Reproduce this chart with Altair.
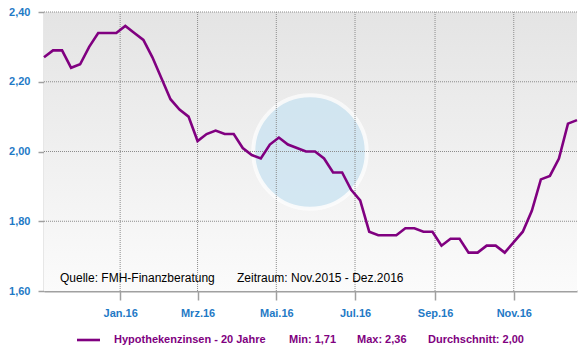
import altair as alt
import pandas as pd

# ---- data ----
first_date = "2015-11-03"
last_date = "2016-12-20"
rates = [2.27, 2.29, 2.29, 2.24, 2.25, 2.30, 2.34, 2.34, 2.34, 2.36,
         2.34, 2.32, 2.27, 2.21, 2.15, 2.12, 2.10, 2.03, 2.05, 2.06,
         2.05, 2.05, 2.01, 1.99, 1.98, 2.02, 2.04, 2.02, 2.01, 2.00,
         2.00, 1.98, 1.94, 1.94, 1.89, 1.86, 1.77, 1.76, 1.76, 1.76,
         1.78, 1.78, 1.77, 1.77, 1.73, 1.75, 1.75, 1.71, 1.71, 1.73,
         1.73, 1.71, 1.74, 1.77, 1.83, 1.92, 1.93, 1.98, 2.08, 2.09]
dates = pd.date_range(first_date, periods=len(rates), freq="7D").strftime("%Y-%m-%d").tolist()
month_names = ["Jan", "Feb", "Mrz", "Apr", "Mai", "Jun", "Jul", "Aug", "Sep", "Okt", "Nov", "Dez"]
tick_dates = ["2016-01-01", "2016-03-01", "2016-05-01", "2016-07-01", "2016-09-01", "2016-11-01"]
y_ticks = [1.60, 1.80, 2.00, 2.20, 2.40]
series_name = "Hypothekenzinsen - 20 Jahre"
source_text = "Quelle: FMH-Finanzberatung"
period_text = "Zeitraum: Nov.2015 - Dez.2016"

df = pd.DataFrame({"date": dates, "rate": rates})

def de(v):
    return f"{v:.2f}".replace(".", ",")

min_text = "Min: " + de(min(rates))
max_text = "Max: " + de(max(rates))
avg_text = "Durchschnitt: " + de(sum(rates) / len(rates))

W, H = 533, 279
PURPLE = "#800080"
BLUE = "#1f7ac6"
FONT = "Liberation Sans"
GRID = "#8c8c8c"

month_expr = "[" + ",".join(f"'{m}'" for m in month_names) + "]"
x_label_expr = month_expr + "[utcmonth(datum.value)] + '.' + utcFormat(datum.value, '%y')"

x_scale = alt.Scale(type="utc", domain=[first_date, last_date])
y_scale = alt.Scale(domain=[1.6, 2.4], nice=False, zero=False)
x_axis = alt.Axis(values=[pd.Timestamp(d).value // 10**6 for d in tick_dates],
                  labelExpr=x_label_expr, title=None, grid=False,
                  tickSize=9, labelPadding=7)
y_axis = alt.Axis(values=y_ticks, labelExpr="replace(format(datum.value, '.2f'), '.', ',')",
                  title=None, grid=False, tickSize=6, labelPadding=8)

one = pd.DataFrame({"k": [0]})

background = alt.Chart(one).mark_rect(
    color=alt.LinearGradient(gradient="linear",
                             stops=[alt.GradientStop(offset=0, color="#e4e4e4"),
                                    alt.GradientStop(offset=1, color="#fbfbfb")],
                             x1=0, x2=0, y1=0, y2=1)
).encode(x=alt.value(0), x2=alt.value(W), y=alt.value(0), y2=alt.value(H))

watermark = alt.Chart(one).mark_circle(
    color="#c9e3f2", opacity=0.75, stroke="white", strokeWidth=4, strokeOpacity=0.9
).encode(x=alt.value(266), y=alt.value(140), size=alt.value(12900))

ygrid = alt.Chart(pd.DataFrame({"v": y_ticks[1:]})).mark_rule(
    color=GRID, strokeDash=[1, 1], strokeWidth=1
).encode(y=alt.Y("v:Q", scale=y_scale, axis=y_axis))

xgrid = alt.Chart(pd.DataFrame({"d": tick_dates})).mark_rule(
    color=GRID, strokeDash=[1, 1], strokeWidth=1
).encode(x=alt.X("d:T", scale=x_scale, axis=x_axis))

line = alt.Chart(df).mark_line(color=PURPLE, strokeWidth=2.6).encode(
    x=alt.X("date:T", scale=x_scale, axis=x_axis),
    y=alt.Y("rate:Q", scale=y_scale, axis=y_axis),
)

def txt(t, x, y, color="black", size=12, bold=False):
    return alt.Chart(pd.DataFrame({"t": [t]})).mark_text(
        align="left", baseline="middle", font=FONT, fontSize=size,
        fontWeight="bold" if bold else "normal", color=color
    ).encode(text="t:N", x=alt.value(x), y=alt.value(y))

LY = 328
legend_rule = alt.Chart(one).mark_rule(color=PURPLE, strokeWidth=2.6).encode(
    x=alt.value(33), x2=alt.value(56), y=alt.value(LY))

chart = alt.layer(
    background,
    watermark,
    ygrid,
    xgrid,
    line,
    txt(source_text, 16, 266),
    txt(period_text, 193, 266),
    legend_rule,
    txt(series_name, 70, LY, PURPLE, 11, True),
    txt(min_text, 245, LY, PURPLE, 11, True),
    txt(max_text, 313, LY, PURPLE, 11, True),
    txt(avg_text, 384, LY, PURPLE, 11, True),
).properties(
    width=W, height=H,
    autosize="none",
    padding={"left": 44, "top": 12, "right": 10, "bottom": 60},
    background="white",
).configure_view(
    stroke=None,
).configure_axis(
    domainColor="#a0a0a0", tickColor="#a0a0a0", domainWidth=1.5, tickWidth=1.5,
    labelColor=BLUE, labelFont=FONT, labelFontSize=11, labelFontWeight="bold",
).configure_axisX(domainWidth=2)

chart.save("out.html", embed_options={"renderer": "svg", "actions": False})
